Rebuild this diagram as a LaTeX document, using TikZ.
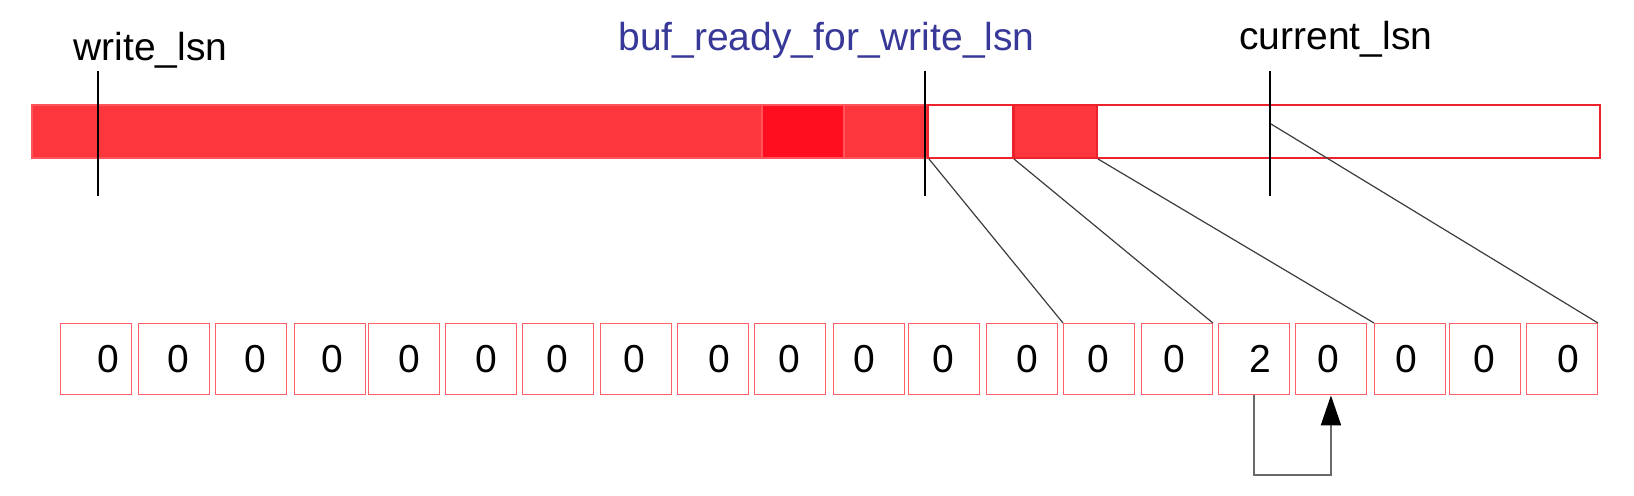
\documentclass[tikz,border=0pt]{standalone}
\usepackage{fontspec}
\setmainfont{Liberation Sans}
\usetikzlibrary{arrows.meta}

\definecolor{barred}{RGB}{252,54,60}
\definecolor{deepred}{RGB}{255,14,32}
\definecolor{barline}{RGB}{238,34,44}
\definecolor{seamred}{RGB}{255,84,90}
\definecolor{cellred}{RGB}{255,96,102}
\definecolor{lsnblue}{RGB}{56,56,152}
\definecolor{linkgray}{RGB}{60,60,60}
\definecolor{arrowgray}{RGB}{105,105,105}

\tikzset{
	cellbox/.style={draw=cellred, line width=0.7pt, minimum width=35.25pt, minimum height=35.5pt, inner sep=0pt, anchor=north west},
	digit/.style={font=\fontsize{19.5pt}{23pt}\selectfont, inner sep=0pt},
	lsnlabel/.style={font=\fontsize{19.5pt}{23pt}\selectfont, inner sep=0pt},
	marker/.style={black, line width=0.7pt},
	link/.style={linkgray, line width=0.6pt}
}

\begin{document}
\begin{tikzpicture}[x=0.5pt, y=-0.5pt]
			\useasboundingbox (0,0) rectangle (1634,496);

			% log buffer
			\filldraw[fill=barred, draw=seamred, line width=0.6pt]	(32,105) rectangle (762,158);
			\filldraw[fill=deepred, draw=seamred, line width=0.6pt]	(762,105) rectangle (844,158);
			\filldraw[fill=barred, draw=seamred, line width=0.6pt]	(844,105) rectangle (928,158);
			\draw[barline, line width=0.7pt]						(928,105) rectangle (1013,158);
			\filldraw[fill=barred, draw=barline, line width=0.7pt]	(1014,105) rectangle (1097,158);
			\draw[barline, line width=0.7pt]						(1097,105) rectangle (1600,158);

			\coordinate (freeA) at (929,159);
			\coordinate (usedB) at (1014,159);
			\coordinate (freeB) at (1098,159);
			\coordinate (cur)   at (1271,124);

			% lsn markers
			\node[lsnlabel, anchor=base west] (write) at (73,61) {write\_lsn};
			\node[lsnlabel, anchor=base east, text=lsnblue] (ready) at (1035,51) {buf\_ready\_for\_write\_lsn};
			\node[lsnlabel, anchor=base west] (current) at (1239,50) {current\_lsn};

			\coordinate (wtop) at (98,71);		\coordinate (wbot) at (98,196);
			\coordinate (rtop) at (925,71);		\coordinate (rbot) at (925,196);
			\coordinate (ctop) at (1270,71);	\coordinate (cbot) at (1270,196);
			\draw[marker]	(wtop) -- (wbot);
			\draw[marker]	(rtop) -- (rbot);
			\draw[marker]	(ctop) -- (cbot);

			% flags
			\foreach \i/\x/\t/\v in {1/60/108/0, 2/138/178/0, 3/215/255/0, 4/294/332/0, 5/368/409/0,
					6/445/486/0, 7/522/557/0, 8/600/634/0, 9/677/719/0, 10/754/789/0,
					11/833/864/0, 12/908/943/0, 13/986/1027/0, 14/1063/1098/0, 15/1141/1174/0,
					16/1218/1260/2, 17/1295/1328/0, 18/1374/1406/0, 19/1449/1484/0, 20/1526/1568/0} {
				\node[cellbox] (c\i) at (\x,323) {};
				\node[digit] (d\i) at (\t,359) {\v};
			}

			\draw[link]	(freeA) -- (c14.north west);
			\draw[link]	(usedB) -- (c15.north east);
			\draw[link]	(freeB) -- (c18.north west);
			\draw[link]	(cur) -- (c20.north east);

			\draw[arrowgray, line width=1pt, -{Triangle[width=10pt, length=15pt, color=black]}]
							(c16.south) -- ++(0,80) -| (c17.south);
		\end{tikzpicture}
\end{document}
